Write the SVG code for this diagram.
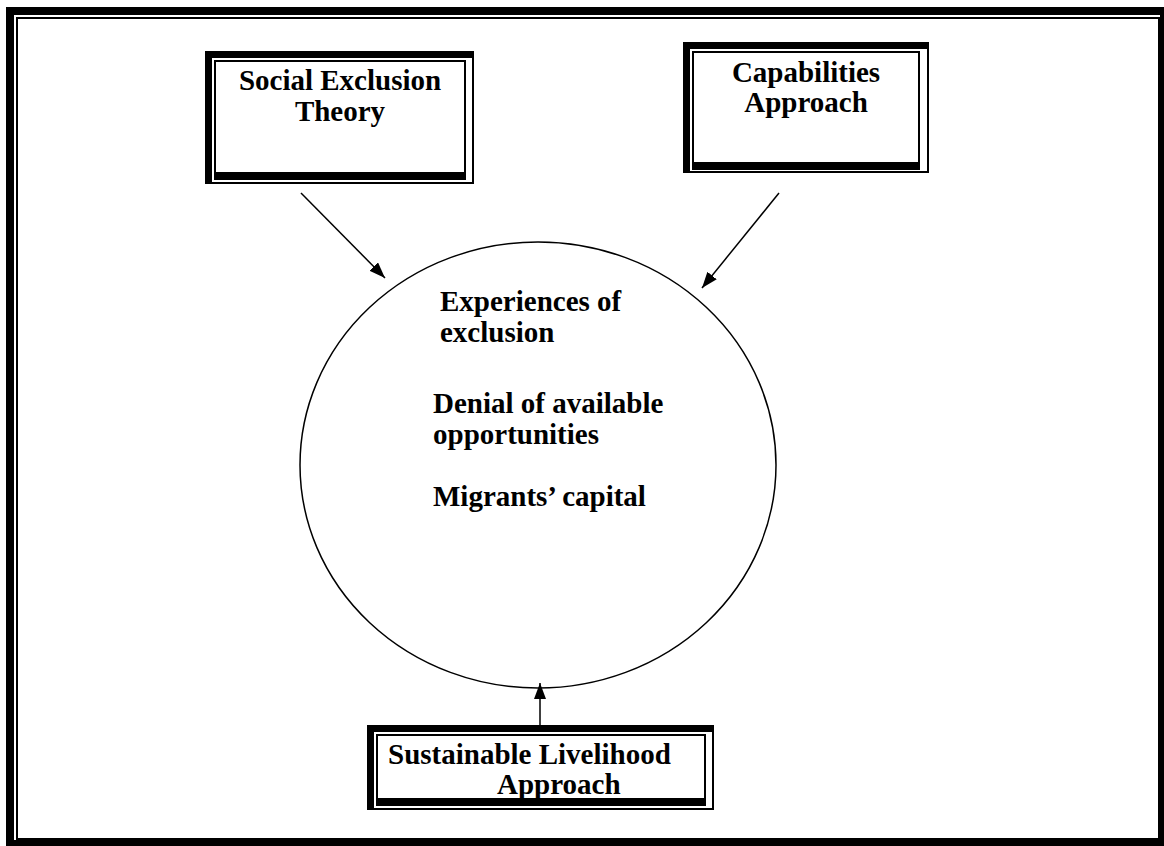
<svg xmlns="http://www.w3.org/2000/svg" width="1164" height="846" viewBox="0 0 1164 846">
<defs>
<style>
.t{font-family:"Liberation Serif","Times New Roman",serif;font-weight:bold;font-size:29px;fill:#000}
.c{text-anchor:middle}
.blk{fill:#000}
.wht{fill:#fff}
.con{stroke:#000;stroke-width:1.5;fill:none;marker-end:url(#ah)}
</style>
<marker id="ah" viewBox="0 0 16 12" refX="16" refY="6" markerWidth="16" markerHeight="12" markerUnits="userSpaceOnUse" orient="auto">
<path d="M0,0 L16,6 L0,12 z" fill="#000"/>
</marker>
</defs>
<rect width="1164" height="846" fill="#fff"/>
<g id="frame">
<rect x="10" y="11" width="1154" height="833" fill="none" stroke="#000" stroke-width="8"/>
<rect x="17" y="18" width="1142" height="821" fill="none" stroke="#000" stroke-width="2"/>
</g>
<g id="social-exclusion">
<rect class="blk" x="205" y="51" width="269" height="133"/>
<rect class="wht" x="212" y="58" width="260" height="124"/>
<rect class="blk" x="214" y="60" width="252" height="120"/>
<rect class="wht" x="216" y="62" width="248" height="110"/>
<text class="t c" x="340" y="90">Social Exclusion</text>
<text class="t c" x="340" y="121">Theory</text>
</g>
<g id="capabilities">
<rect class="blk" x="683" y="42" width="246" height="131"/>
<rect class="wht" x="690" y="49" width="237" height="122"/>
<rect class="blk" x="692" y="51" width="228" height="119"/>
<rect class="wht" x="694" y="53" width="224" height="109"/>
<text class="t c" x="806" y="82">Capabilities</text>
<text class="t c" x="806" y="112">Approach</text>
</g>
<g id="sustainable">
<rect class="blk" x="367" y="725" width="347" height="85"/>
<rect class="wht" x="374" y="732" width="338" height="76"/>
<rect class="blk" x="376" y="734" width="330" height="72"/>
<rect class="wht" x="378" y="736" width="326" height="62"/>
<text class="t" x="388" y="764">Sustainable Livelihood</text>
<text class="t" x="497" y="794">Approach</text>
</g>
<g id="center">
<ellipse cx="538" cy="465" rx="238" ry="223" fill="none" stroke="#000" stroke-width="1.5"/>
<text class="t" x="440" y="311">Experiences of</text>
<text class="t" x="440" y="342">exclusion</text>
<text class="t" x="433" y="413">Denial of available</text>
<text class="t" x="433" y="444">opportunities</text>
<text class="t" x="433" y="506">Migrants’ capital</text>
</g>
<g id="connectors">
<line class="con" x1="301" y1="193" x2="385" y2="278"/>
<line class="con" x1="779" y1="193" x2="702" y2="288"/>
<line class="con" x1="540" y1="725" x2="540" y2="683"/>
</g>
</svg>
